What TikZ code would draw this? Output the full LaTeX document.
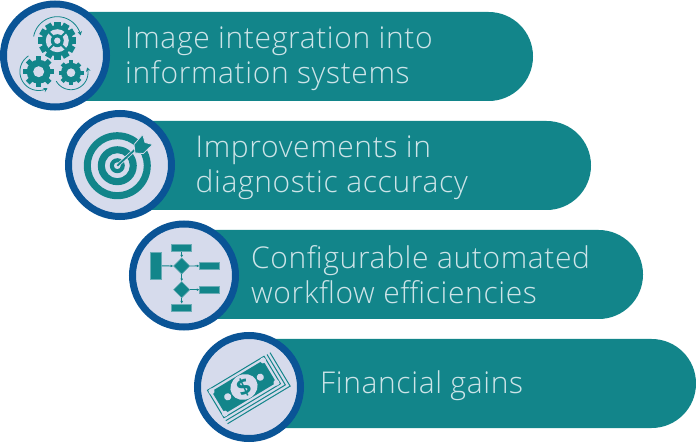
\documentclass[tikz,border=0pt]{standalone}
\usepackage{fontspec}
\setmainfont{Open Sans Light}[LetterSpace=2.1]
\newfontfamily\dollarfont{Open Sans}
\usetikzlibrary{arrows.meta}
\definecolor{barteal}{HTML}{12858A}
\definecolor{ringblue}{HTML}{0A5496}
\definecolor{discfill}{HTML}{D6DBEC}
\definecolor{labeltext}{HTML}{CDE4E8}
\tikzset{
  x=1pt,y=-1pt,
  bar/.style={fill=barteal},
  disc/.style={circle,fill=discfill,draw=ringblue,line width=7pt,minimum size=103pt,inner sep=0pt},
  label/.style={anchor=west,align=left,text=labeltext,font=\fontsize{30}{34.5}\selectfont,inner sep=0pt},
  ico/.style={fill=barteal},
  flowbox/.style={fill=barteal,draw=barteal!55!discfill,line width=.5pt,inner sep=0pt},
  flowdia/.style={fill=barteal,draw=barteal!55!discfill,line width=.5pt,shape=rectangle,rotate=45,inner sep=0pt,minimum size=11.5pt},
  flowline/.style={draw=barteal,line width=.9pt,-{Latex[length=2.6pt,width=2.8pt]}},
  circarrow/.style={draw=barteal,line width=.8pt,-{Stealth[length=4pt,width=4.5pt]}}
}
% \gearicon{cx}{cy}{outer}{body}{teeth}
\newcommand{\gearicon}[5]{%
  \fill[ico] (#1,#2) circle[radius=#4 pt];
  \pgfmathsetmacro{\gstep}{360/#5}
  \pgfmathsetmacro{\gw}{#3*0.17}
  \foreach \gi in {1,...,#5}{
    \fill[ico,shift={(#1,#2)},rotate=\gi*\gstep] (#4-1,-\gw) rectangle (#3,\gw);
  }
}
\newcommand{\arcarrow}[5]{%
  \draw[circarrow] plot[domain=#4:#5,samples=40,smooth] ({#1+#3*cos(\x)},{#2+#3*sin(\x)});
}
\begin{document}
\begin{tikzpicture}
\useasboundingbox (0,0) rectangle (696,443);
% bars
\fill[bar] (55,12) {[rounded corners=44.4pt] -- (533,12) -- (533,101)} -- (55,101) -- cycle;
\fill[bar] (120,121) {[rounded corners=44.4pt] -- (591,121) -- (591,210)} -- (120,210) -- cycle;
\fill[bar] (184,230) {[rounded corners=44.4pt] -- (643,230) -- (643,319)} -- (184,319) -- cycle;
\fill[bar] (249,339) {[rounded corners=44.4pt] -- (696,339) -- (696,428)} -- (249,428) -- cycle;
% discs
\node[disc] (d1) at (55,55.5) {};
\node[disc] (d2) at (120,165) {};
\node[disc] (d3) at (184,275.5) {};
\node[disc] (d4) at (249,387) {};
% labels
\node[label] (t1) at (125,58.5) {Image integration into\\information systems};
\node[label] (t2) at (195.5,167.5) {Improvements in\\diagnostic accuracy};
\node[label] (t3) at (251,274.5) {Configurable automated\\workflow efficiencies};
\node[label] (t4) at (320,386) {Financial gains};
% icon 1: gears
\gearicon{57.3}{40.7}{19}{15.5}{12}
\fill[discfill] (57.3,40.7) circle[radius=11.5pt];
\fill[ico] (57.3,40.7) circle[radius=6.5pt];
\fill[discfill] (57.3,40.7) circle[radius=3.2pt];
\foreach \a in {45,135,225,315}
  \draw[barteal,line width=2pt,shift={(57.3,40.7)},rotate=\a] (6,0) -- (12,0);
\gearicon{38.7}{71.7}{15.5}{12}{8}
\fill[discfill] (38.7,71.7) circle[radius=5.5pt];
\gearicon{71}{72.7}{12.5}{10}{8}
\fill[discfill] (71,72.7) circle[radius=4.3pt];
\arcarrow{57.3}{40.7}{24}{190}{347}
\arcarrow{38.7}{71.7}{18.8}{-123}{-298}
\arcarrow{71}{72.7}{17}{150}{-18}
% icon 2: target
\fill[ico,even odd rule] (117.3,165.7) circle[radius=33.5pt] circle[radius=26.5pt]
  circle[radius=19.5pt] circle[radius=12.5pt] circle[radius=7.5pt] circle[radius=3.5pt];
\draw[discfill,line width=3.4pt] (117.3,165.7) -- (140,145);
\draw[barteal,line width=1.8pt] (117.3,165.7) -- (140,145);
\fill[ico,draw=discfill,line width=.8pt] (134,144.5) -- (142.7,134.5) -- (145,142.5) -- (152.7,144.5) -- (143.3,153.5) -- (135,153) -- cycle;
% icon 3: flowchart
\node[flowbox,minimum width=20pt,minimum height=7.7pt] (f1) at (181.7,247.8) {};
\node[flowbox,minimum width=11pt,minimum height=27pt] (f2) at (156.2,265.8) {};
\node[flowdia] (f3) at (181.7,266) {};
\node[flowbox,minimum width=20pt,minimum height=7.7pt] (f4) at (209.7,265.8) {};
\node[flowdia] (f5) at (181.7,289.7) {};
\node[flowbox,minimum width=20pt,minimum height=7.7pt] (f6) at (209.7,289.7) {};
\node[flowbox,minimum width=20pt,minimum height=7.7pt] (f7) at (181.7,307.7) {};
\draw[flowline] (f1) -- (f3.north east);
\draw[flowline] (f2) -- (f3.north west);
\draw[flowline] (f3.south east) -- (f4);
\draw[flowline] (f3.south west) -- (f5.north east);
\draw[flowline] (f5.south east) -- (f6);
\draw[flowline] (f5.south west) -- (f7);
% icon 4: money
\begin{scope}[shift={(244,387)},rotate=31]
  \draw[barteal,line width=1pt] (-33,-16) rectangle (33,16);
  \fill[ico] (-30,-13) rectangle (30,13);
  \foreach \sx/\sy in {-30/-13,30/-13,-30/13,30/13}
    \fill[discfill] (\sx,\sy) circle[radius=3pt];
  \fill[discfill] (0,0) ellipse[x radius=14pt,y radius=12.5pt];
  \fill[discfill] (-19,0) circle[radius=3.6pt];
  \fill[discfill] (19,0) circle[radius=3.6pt];
  \draw[barteal,line width=1pt] (-33,19.5) -- (36.5,19.5) -- (36.5,-16);
  \draw[barteal,line width=1pt] (-33,23) -- (40,23) -- (40,-16);
  \node[text=barteal,font=\fontsize{23}{23}\selectfont\dollarfont\bfseries,inner sep=0pt,rotate=25] (dollar) at (0,0) {\$};
\end{scope}
\end{tikzpicture}
\end{document}
